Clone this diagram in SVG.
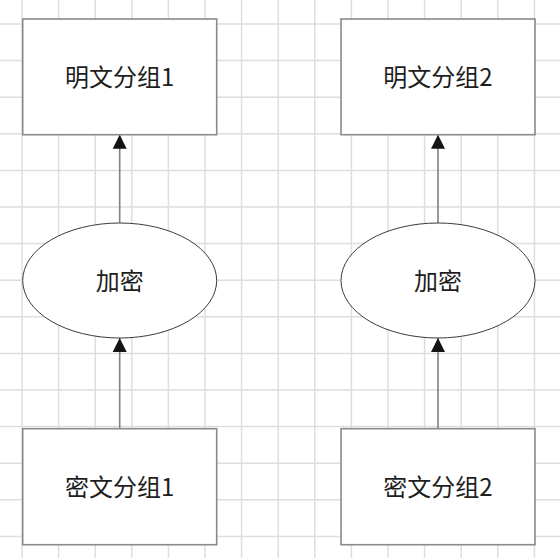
<svg xmlns="http://www.w3.org/2000/svg" width="560" height="558" viewBox="0 0 560 558">
  <style>
    .grid line { stroke: #dedede; stroke-width: 1.5; }
    .box { fill: #ffffff; stroke: #8a8a8a; stroke-width: 1.6; }
    .ell { fill: #ffffff; stroke: #3a3a3a; stroke-width: 1; }
    .lbl { font-family: "Noto Sans CJK SC", "Noto Sans", sans-serif; font-size: 24px; fill: #1e1e1e; text-anchor: middle; dominant-baseline: central; }
    .conn { stroke: #808080; stroke-width: 1.6; fill: none; marker-end: url(#arr); }
  </style>
  <defs>
    <marker id="arr" markerUnits="userSpaceOnUse" markerWidth="16" markerHeight="16" viewBox="0 0 16 16" refX="14" refY="8" orient="auto">
      <path d="M0,1 L14,8 L0,15 Z" fill="#141414"/>
    </marker>
  </defs>
  <rect width="560" height="558" fill="#ffffff"/>
  <g class="grid">
    <line x1="22" y1="0" x2="22" y2="558"/>
    <line x1="58.6" y1="0" x2="58.6" y2="558"/>
    <line x1="95.2" y1="0" x2="95.2" y2="558"/>
    <line x1="131.8" y1="0" x2="131.8" y2="558"/>
    <line x1="168.4" y1="0" x2="168.4" y2="558"/>
    <line x1="205" y1="0" x2="205" y2="558"/>
    <line x1="241.6" y1="0" x2="241.6" y2="558"/>
    <line x1="278.2" y1="0" x2="278.2" y2="558"/>
    <line x1="314.8" y1="0" x2="314.8" y2="558"/>
    <line x1="351.4" y1="0" x2="351.4" y2="558"/>
    <line x1="388" y1="0" x2="388" y2="558"/>
    <line x1="424.6" y1="0" x2="424.6" y2="558"/>
    <line x1="461.2" y1="0" x2="461.2" y2="558"/>
    <line x1="497.8" y1="0" x2="497.8" y2="558"/>
    <line x1="534.4" y1="0" x2="534.4" y2="558"/>
    <line x1="0" y1="24" x2="560" y2="24"/>
    <line x1="0" y1="60.6" x2="560" y2="60.6"/>
    <line x1="0" y1="97.2" x2="560" y2="97.2"/>
    <line x1="0" y1="133.8" x2="560" y2="133.8"/>
    <line x1="0" y1="170.4" x2="560" y2="170.4"/>
    <line x1="0" y1="207" x2="560" y2="207"/>
    <line x1="0" y1="243.6" x2="560" y2="243.6"/>
    <line x1="0" y1="280.2" x2="560" y2="280.2"/>
    <line x1="0" y1="316.8" x2="560" y2="316.8"/>
    <line x1="0" y1="353.4" x2="560" y2="353.4"/>
    <line x1="0" y1="390" x2="560" y2="390"/>
    <line x1="0" y1="426.6" x2="560" y2="426.6"/>
    <line x1="0" y1="463.2" x2="560" y2="463.2"/>
    <line x1="0" y1="499.8" x2="560" y2="499.8"/>
    <line x1="0" y1="536.4" x2="560" y2="536.4"/>
  </g>
  <g id="connectors">
    <line class="conn" x1="119.7" y1="428.5" x2="119.7" y2="338"/>
    <line class="conn" x1="119.7" y1="223" x2="119.7" y2="134.7"/>
    <line class="conn" x1="438" y1="428.5" x2="438" y2="338"/>
    <line class="conn" x1="438" y1="223" x2="438" y2="134.7"/>
  </g>
  <g id="plain1">
    <rect class="box" x="22.7" y="19" width="194" height="115.7"/>
    <text class="lbl" x="119.7" y="75.5">明文分组1</text>
  </g>
  <g id="plain2">
    <rect class="box" x="341" y="19" width="194" height="115.7"/>
    <text class="lbl" x="438" y="75.5">明文分组2</text>
  </g>
  <g id="enc1">
    <ellipse class="ell" cx="119.7" cy="280.5" rx="97" ry="57.5"/>
    <text class="lbl" x="119.7" y="279.5">加密</text>
  </g>
  <g id="enc2">
    <ellipse class="ell" cx="438" cy="280.5" rx="97" ry="57.5"/>
    <text class="lbl" x="438" y="279.5">加密</text>
  </g>
  <g id="cipher1">
    <rect class="box" x="22.7" y="428.7" width="194" height="116"/>
    <text class="lbl" x="119.7" y="485.5">密文分组1</text>
  </g>
  <g id="cipher2">
    <rect class="box" x="341" y="428.7" width="194" height="116"/>
    <text class="lbl" x="438" y="485.5">密文分组2</text>
  </g>
</svg>
